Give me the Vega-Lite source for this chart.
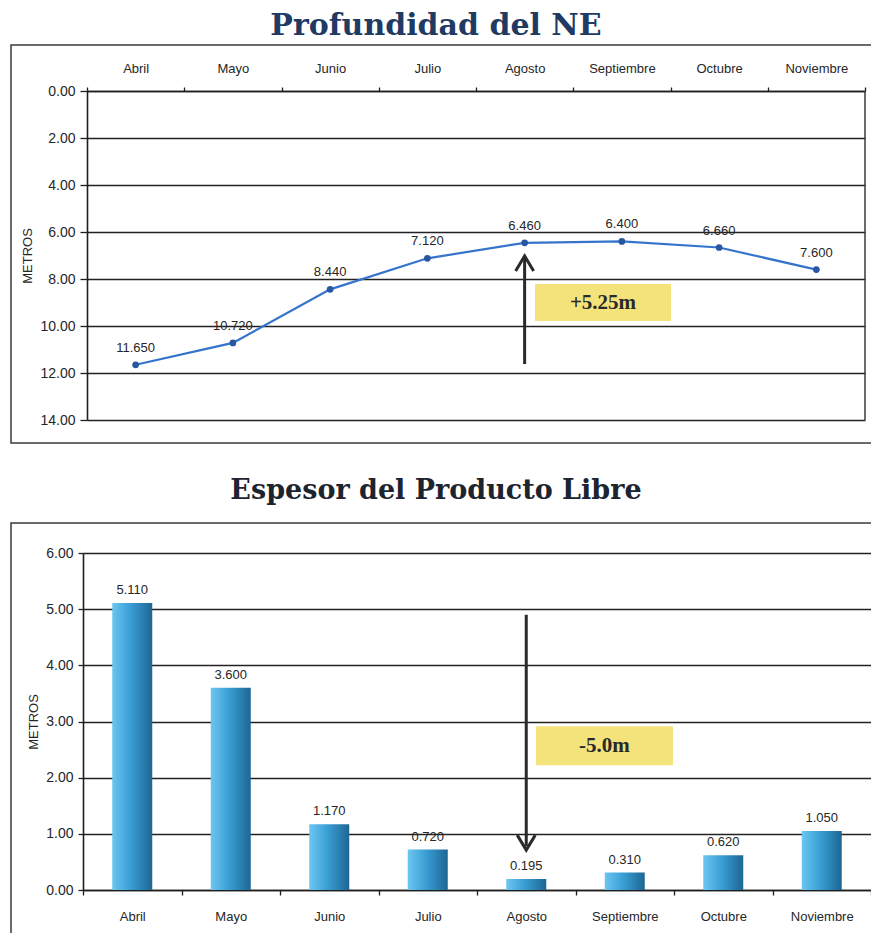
{
  "$schema": "https://vega.github.io/schema/vega-lite/v6.json",
  "background": "white",
  "padding": {"left": 10, "top": 10, "right": 0, "bottom": 0},
  "spacing": 32,
  "config": {
    "view": {"stroke": "#3a3a3a", "strokeWidth": 1.5},
    "axis": {
      "labelFont": "Liberation Sans",
      "labelFontSize": 13,
      "labelColor": "#262626",
      "domainColor": "#1e1e1e",
      "domainWidth": 1.6,
      "tickColor": "#1e1e1e",
      "tickWidth": 1.3,
      "titleFont": "Liberation Sans",
      "titleFontSize": 13,
      "titleFontWeight": "normal",
      "titleColor": "#262626"
    },
    "axisY": {"labelFontSize": 14},
    "text": {"font": "Liberation Sans", "fontSize": 13, "color": "#262626"}
  },
  "datasets": {
    "profundidad": [
      {"mes": "Abril", "profundidad": 11.65},
      {"mes": "Mayo", "profundidad": 10.72},
      {"mes": "Junio", "profundidad": 8.44},
      {"mes": "Julio", "profundidad": 7.12},
      {"mes": "Agosto", "profundidad": 6.46},
      {"mes": "Septiembre", "profundidad": 6.4},
      {"mes": "Octubre", "profundidad": 6.66},
      {"mes": "Noviembre", "profundidad": 7.6}
    ],
    "espesor": [
      {"mes": "Abril", "espesor": 5.11},
      {"mes": "Mayo", "espesor": 3.6},
      {"mes": "Junio", "espesor": 1.17},
      {"mes": "Julio", "espesor": 0.72},
      {"mes": "Agosto", "espesor": 0.195},
      {"mes": "Septiembre", "espesor": 0.31},
      {"mes": "Octubre", "espesor": 0.62},
      {"mes": "Noviembre", "espesor": 1.05}
    ],
    "nota": [{}]
  },
  "vconcat": [
    {
      "width": 870,
      "height": 398,
      "title": {
        "text": "Profundidad del NE",
        "font": "DejaVu Serif",
        "fontWeight": "bold",
        "fontSize": 30,
        "color": "#1f3a63",
        "offset": 4,
        "dx": -10
      },
      "layer": [
        {
          "data": {"name": "profundidad"},
          "mark": {"type": "line", "color": "#3574cc", "strokeWidth": 2.2},
          "encoding": {
            "x": {
              "field": "mes",
              "type": "nominal",
              "scale": {
                "type": "band",
                "domain": ["Abril", "Mayo", "Junio", "Julio", "Agosto", "Septiembre", "Octubre", "Noviembre"],
                "range": [76, 854],
                "paddingInner": 0,
                "paddingOuter": 0
              },
              "axis": {
                "orient": "top",
                "offset": -46,
                "title": null,
                "labelAngle": 0,
                "tickBand": "extent",
                "tickSize": 4,
                "labelPadding": 12,
                "grid": false
              }
            },
            "y": {
              "field": "profundidad",
              "type": "quantitative",
              "scale": {"domain": [0, 14], "range": [46, 375], "nice": false, "zero": false},
              "axis": {
                "orient": "left",
                "offset": -76,
                "values": [0, 2, 4, 6, 8, 10, 12, 14],
                "format": ".2f",
                "title": "METROS",
                "titlePadding": 5,
                "tickSize": 7,
                "labelPadding": 5,
                "grid": true,
                "gridColor": "#222222",
                "gridWidth": 1.4
              }
            },
            "order": {"value": null}
          }
        },
        {
          "data": {"name": "profundidad"},
          "mark": {"type": "point", "filled": true, "opacity": 1, "size": 45, "color": "#2757a3"},
          "encoding": {
            "x": {"field": "mes", "type": "nominal"},
            "y": {"field": "profundidad", "type": "quantitative"}
          }
        },
        {
          "data": {"name": "profundidad"},
          "mark": {"type": "text", "baseline": "bottom", "dy": -10},
          "encoding": {
            "x": {"field": "mes", "type": "nominal"},
            "y": {"field": "profundidad", "type": "quantitative"},
            "text": {"field": "profundidad", "type": "quantitative", "format": ".3f"}
          }
        },
        {
          "data": {"name": "nota"},
          "mark": {"type": "rule", "color": "#3a3a3a", "strokeWidth": 1.5},
          "encoding": {
            "x": {"datum": "Noviembre", "type": "nominal", "bandPosition": 1},
            "y": {"datum": 0, "type": "quantitative"},
            "y2": {"datum": 14}
          }
        },
        {
          "data": {"name": "nota"},
          "mark": {"type": "point", "shape": "M-1,-0.272L1,-0.272L1,0.272L-1,0.272Z", "size": 18496, "filled": true, "opacity": 1, "color": "#f4e37a"},
          "encoding": {
            "x": {"datum": "Septiembre", "type": "nominal", "bandPosition": 0.306},
            "y": {"datum": 9.0, "type": "quantitative"}
          }
        },
        {
          "data": {"name": "nota"},
          "mark": {"type": "text", "text": "+5.25m", "font": "Liberation Serif", "fontWeight": "bold", "fontSize": 21, "color": "#2a2a2a", "baseline": "middle", "align": "center"},
          "encoding": {
            "x": {"datum": "Septiembre", "type": "nominal", "bandPosition": 0.306},
            "y": {"datum": 9.0, "type": "quantitative"}
          }
        },
        {
          "data": {"name": "nota"},
          "mark": {"type": "rule", "color": "#2a2a2a", "strokeWidth": 3},
          "encoding": {
            "x": {"datum": "Agosto", "type": "nominal"},
            "y": {"datum": 11.62, "type": "quantitative"},
            "y2": {"datum": 7.1}
          }
        },
        {
          "data": {"name": "nota"},
          "mark": {"type": "point", "shape": "M-0.6,1L0,0L0.6,1", "size": 900, "filled": false, "opacity": 1, "color": "#2a2a2a", "strokeWidth": 3},
          "encoding": {
            "x": {"datum": "Agosto", "type": "nominal"},
            "y": {"datum": 7.02, "type": "quantitative"}
          }
        }
      ]
    },
    {
      "width": 870,
      "height": 420,
      "title": {
        "text": "Espesor del Producto Libre",
        "font": "DejaVu Serif",
        "fontWeight": "bold",
        "fontSize": 27,
        "color": "#1c2430",
        "offset": 18,
        "dx": -10
      },
      "layer": [
        {
          "data": {"name": "espesor"},
          "mark": {
            "type": "bar",
            "width": 40,
            "color": {
              "gradient": "linear",
              "x1": 0, "y1": 0, "x2": 1, "y2": 0,
              "stops": [
                {"offset": 0, "color": "#6cc6f0"},
                {"offset": 0.45, "color": "#3a9fd6"},
                {"offset": 1, "color": "#1d6693"}
              ]
            }
          },
          "encoding": {
            "x": {
              "field": "mes",
              "type": "nominal",
              "scale": {
                "type": "band",
                "domain": ["Abril", "Mayo", "Junio", "Julio", "Agosto", "Septiembre", "Octubre", "Noviembre"],
                "range": [72, 860],
                "paddingInner": 0,
                "paddingOuter": 0
              },
              "axis": {
                "orient": "bottom",
                "offset": -53,
                "title": null,
                "labelAngle": 0,
                "tickBand": "extent",
                "tickSize": 5,
                "labelPadding": 15,
                "grid": false
              }
            },
            "y": {
              "field": "espesor",
              "type": "quantitative",
              "scale": {"domain": [0, 6], "range": [367, 30], "nice": false},
              "axis": {
                "orient": "left",
                "offset": -72,
                "values": [0, 1, 2, 3, 4, 5, 6],
                "format": ".2f",
                "title": "METROS",
                "titlePadding": 5,
                "tickSize": 5,
                "labelPadding": 5,
                "grid": true,
                "gridColor": "#222222",
                "gridWidth": 1.4
              }
            }
          }
        },
        {
          "data": {"name": "espesor"},
          "mark": {"type": "text", "baseline": "bottom", "dy": -6},
          "encoding": {
            "x": {"field": "mes", "type": "nominal"},
            "y": {"field": "espesor", "type": "quantitative"},
            "text": {"field": "espesor", "type": "quantitative", "format": ".3f"}
          }
        },
        {
          "data": {"name": "nota"},
          "mark": {"type": "point", "shape": "M-1,-0.285L1,-0.285L1,0.285L-1,0.285Z", "size": 18769, "filled": true, "opacity": 1, "color": "#f4e37a"},
          "encoding": {
            "x": {"datum": "Septiembre", "type": "nominal", "bandPosition": 0.294},
            "y": {"datum": 2.57, "type": "quantitative"}
          }
        },
        {
          "data": {"name": "nota"},
          "mark": {"type": "text", "text": "-5.0m", "font": "Liberation Serif", "fontWeight": "bold", "fontSize": 21, "color": "#2a2a2a", "baseline": "middle", "align": "center"},
          "encoding": {
            "x": {"datum": "Septiembre", "type": "nominal", "bandPosition": 0.294},
            "y": {"datum": 2.57, "type": "quantitative"}
          }
        },
        {
          "data": {"name": "nota"},
          "mark": {"type": "rule", "color": "#2a2a2a", "strokeWidth": 3},
          "encoding": {
            "x": {"datum": "Agosto", "type": "nominal"},
            "y": {"datum": 4.9, "type": "quantitative"},
            "y2": {"datum": 0.78}
          }
        },
        {
          "data": {"name": "nota"},
          "mark": {"type": "point", "shape": "M-0.6,-1L0,0L0.6,-1", "size": 900, "filled": false, "opacity": 1, "color": "#2a2a2a", "strokeWidth": 3},
          "encoding": {
            "x": {"datum": "Agosto", "type": "nominal"},
            "y": {"datum": 0.71, "type": "quantitative"}
          }
        }
      ]
    }
  ]
}
